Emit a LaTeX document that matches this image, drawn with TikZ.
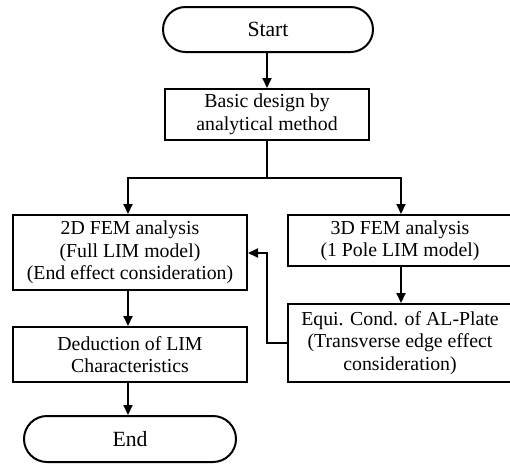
\documentclass[tikz,border=0pt]{standalone}
\usepackage{fontspec}
\setmainfont{Liberation Serif}
\usetikzlibrary{shapes.misc,arrows.meta}
\begin{document}
\begin{tikzpicture}[x=1pt,y=-1pt,
  every node/.style={font=\fontsize{19.8}{22.5}\selectfont, align=center, inner sep=0pt},
  box/.style={draw, line width=2pt, rectangle},
  term/.style={draw, line width=2pt, rounded rectangle, font=\fontsize{21.7}{24}\selectfont},
  conn/.style={line width=2pt, -{Triangle[length=10pt,width=9pt]}},
  plain/.style={line width=2pt}]
\useasboundingbox (0,0) rectangle (510,463);
\clip (0,0) rectangle (510,463);
\node[term, minimum width=210pt, minimum height=45pt] (start) at (268,29.5) {Start};
\node[box, minimum width=204pt, minimum height=51pt] (basic) at (267,114.5) {Basic design by\\analytical method};
\node[box, minimum width=234pt, minimum height=75pt] (fem2) at (130,252.5) {2D FEM analysis\\(Full LIM model)\\(End effect consideration)};
\node[box, minimum width=224pt, minimum height=51pt] (fem3) at (400,240.5) {3D FEM analysis\\(1 Pole LIM model)};
\node[box, minimum width=224pt, minimum height=78pt] (equi) at (400,343) {Equi. Cond. of AL-Plate\\(Transverse edge effect\\consideration)};
\node[box, minimum width=234pt, minimum height=55pt] (ded) at (130,354.5) {Deduction of LIM\\Characteristics};
\node[term, minimum width=212pt, minimum height=46pt] (end) at (130,439) {End};
\coordinate (j) at (267,177.5);
\coordinate (jl) at (128,177.5);
\coordinate (jr) at (401,177.5);
\coordinate (fb1) at (267,343);
\coordinate (fb2) at (267,253);
\draw[conn] (start.south -| basic.north) -- (basic.north);
\draw[conn] (basic.south) -- (j) -- (jr) -- (jr |- fem3.north);
\draw[conn] (j) -- (jl) -- (jl |- fem2.north);
\draw[conn] (fem3.south -| jr) -- (jr |- equi.north);
\draw[conn] (equi.west |- fb1) -- (fb1) -- (fb2) -- (fb2 -| fem2.east);
\draw[conn] (fem2.south -| jl) -- (jl |- ded.north);
\draw[conn] (ded.south -| jl) -- (jl |- end.north);
\end{tikzpicture}
\end{document}
